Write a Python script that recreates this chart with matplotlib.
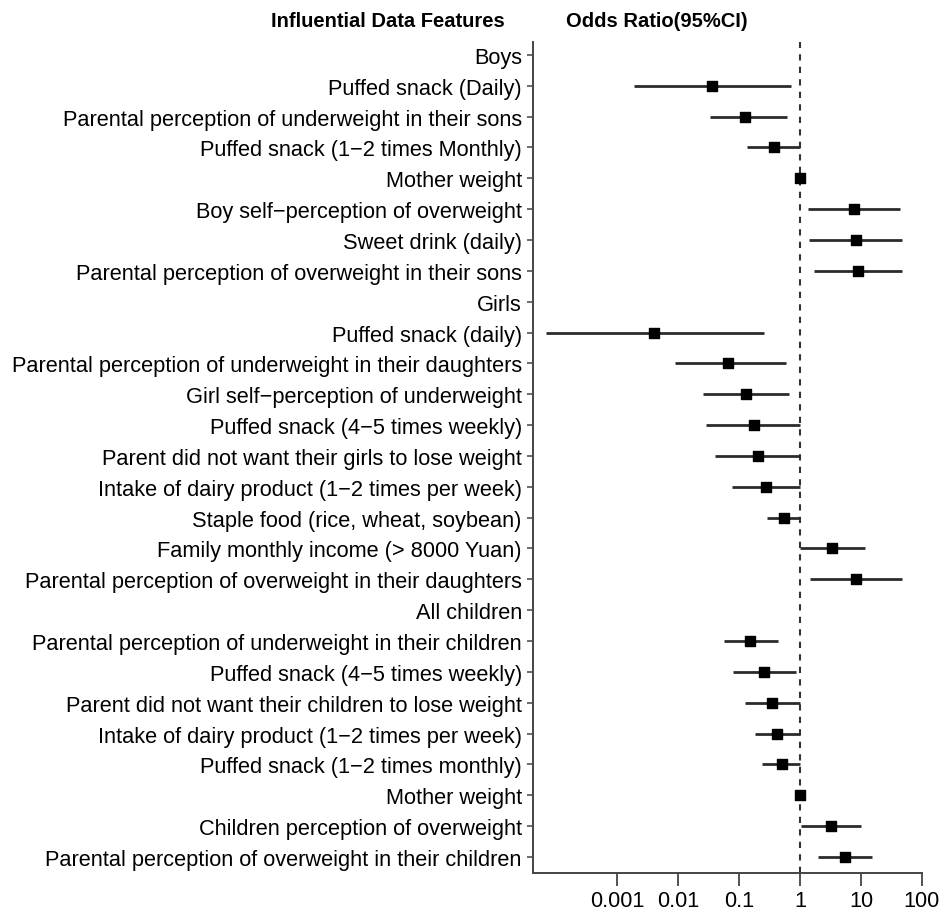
import numpy as np
import matplotlib
matplotlib.use("Agg")
import matplotlib.pyplot as plt
from matplotlib.ticker import FixedLocator, FixedFormatter, NullLocator

plt.rcParams['font.family'] = ['Liberation Sans', 'DejaVu Sans']

features = [
    "Boys",
    "Puffed snack (Daily)",
    "Parental perception of underweight in their sons",
    "Puffed snack (1\u22122 times Monthly)",
    "Mother weight",
    "Boy self\u2212perception of overweight",
    "Sweet drink (daily)",
    "Parental perception of overweight in their sons",
    "Girls",
    "Puffed snack (daily)",
    "Parental perception of underweight in their daughters",
    "Girl self\u2212perception of underweight",
    "Puffed snack (4\u22125 times weekly)",
    "Parent did not want their girls to lose weight",
    "Intake of dairy product (1\u22122 times per week)",
    "Staple food (rice, wheat, soybean)",
    "Family monthly income (> 8000 Yuan)",
    "Parental perception of overweight in their daughters",
    "All children",
    "Parental perception of underweight in their children",
    "Puffed snack (4\u22125 times weekly)",
    "Parent did not want their children to lose weight",
    "Intake of dairy product (1\u22122 times per week)",
    "Puffed snack (1\u22122 times monthly)",
    "Mother weight",
    "Children perception of overweight",
    "Parental perception of overweight in their children",
]

nan = np.nan
odds = [nan, 0.036, 0.126, 0.37, 1.0, 7.8, 8.2, 8.8,
        nan, 0.0041, 0.065, 0.132, 0.176, 0.205, 0.274, 0.54, 3.4, 8.4,
        nan, 0.15, 0.257, 0.35, 0.42, 0.50, 1.0, 3.2, 5.5]
lower = [nan, 0.0019, 0.0335, 0.135, 0.99, 1.34, 1.4, 1.68,
         nan, 0.0000676, 0.0088, 0.0257, 0.0288, 0.040, 0.077, 0.29, 1.0, 1.48,
         nan, 0.057, 0.079, 0.124, 0.186, 0.238, 0.99, 1.02, 1.95]
upper = [nan, 0.70, 0.60, 1.0, 1.01, 44, 47.6, 47,
         nan, 0.254, 0.59, 0.67, 1.0, 1.0, 1.0, 1.0, 11.8, 47,
         nan, 0.44, 0.85, 1.0, 1.0, 1.0, 1.01, 9.9, 15.4]

tick_values = [0.001, 0.01, 0.1, 1, 10, 100]
tick_labels = ["0.001", "0.01", "0.1", "1", "10", "100"]

fig = plt.figure(figsize=(9.43, 9.12), dpi=100)
ax = fig.add_axes([0.5652, 0.0417, 0.4125, 0.9112])

y = np.arange(len(features))
ax.set_xscale('log')

# confidence intervals and point estimates
ax.hlines(y, lower, upper, color='#2b2b2b', linewidth=2.0, zorder=2)
ax.scatter(odds, y, marker='s', s=42, color='black', zorder=3)

ax.axvline(1, color='#333333', linestyle=(0, (3, 3)), linewidth=1.5, zorder=1)

ax.set_xlim(10 ** -4.38, 100)
ax.set_ylim(len(features) - 0.48, -0.42)

ax.set_yticks(y)
ax.set_yticklabels(features, fontsize=15.7)
ax.xaxis.set_major_locator(FixedLocator(tick_values))
ax.xaxis.set_major_formatter(FixedFormatter(tick_labels))
ax.xaxis.set_minor_locator(NullLocator())
ax.tick_params(axis='x', labelsize=15.7, length=9, width=1.3, pad=3, color='#444444')
ax.tick_params(axis='y', length=4, width=1.1, pad=4, color='#444444')

for side in ['top', 'right']:
    ax.spines[side].set_visible(False)
for side in ['left', 'bottom']:
    ax.spines[side].set_linewidth(1.4)
    ax.spines[side].set_color('#444444')

fig.text(0.5355, 0.976, "Influential Data Features", ha='right', va='center',
         fontsize=14.5, fontweight='bold')
fig.text(0.600, 0.976, "Odds Ratio(95%CI)", ha='left', va='center',
         fontsize=14.5, fontweight='bold')

fig.savefig("out.png", dpi=100)
